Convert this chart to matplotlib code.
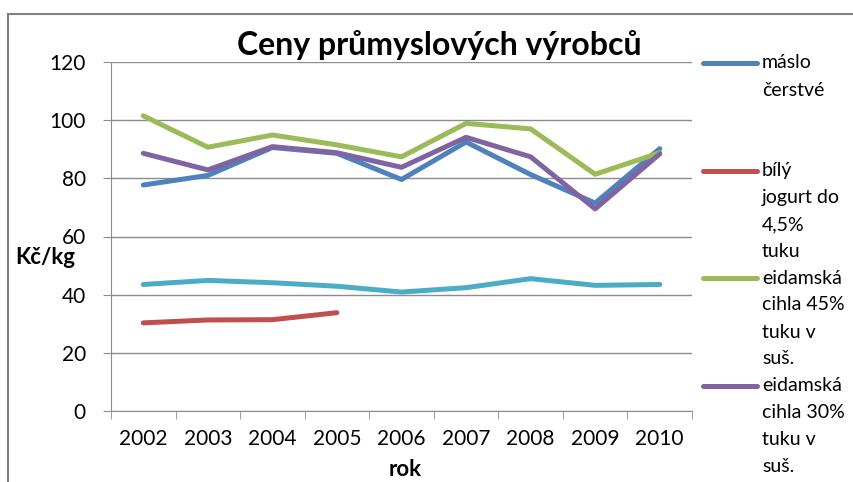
import numpy as np
import matplotlib
matplotlib.use('Agg')
import matplotlib.pyplot as plt
from matplotlib.lines import Line2D

years = ['2002', '2003', '2004', '2005', '2006', '2007', '2008', '2009', '2010']
maslo = [77.7, 81.0, 90.6, 88.6, 79.6, 92.5, 81.3, 71.5, 90.2]
jogurt = [30.3, 31.3, 31.4, 33.8]
eidam45 = [101.5, 90.7, 94.9, 91.5, 87.4, 98.9, 97.0, 81.4, 88.8]
eidam30 = [88.6, 82.9, 90.9, 88.8, 83.8, 94.1, 87.4, 69.5, 88.4]
cyan_series = [43.5, 44.9, 44.1, 42.9, 40.9, 42.4, 45.5, 43.2, 43.5]

legend_labels = ['máslo\nčerstvé', 'bílý\njogurt do\n4,5%\ntuku',
                 'eidamská\ncihla 45%\ntuku v\nsuš.', 'eidamská\ncihla 30%\ntuku v\nsuš.']
colors = ['#4F81BD', '#C0504D', '#9BBB59', '#8064A2', '#4BACC6']

plt.rcParams['font.family'] = ['Lato', 'DejaVu Sans']

fig = plt.figure(figsize=(8.54, 4.82), dpi=100)
ax = fig.add_axes([111 / 854, 1 - 411 / 482, 581 / 854, 349 / 482])

x = np.arange(len(years))
lw = 3.6
ax.plot(x, maslo, color=colors[0], lw=lw, solid_capstyle='round', zorder=3)
ax.plot(x[:len(jogurt)], jogurt, color=colors[1], lw=lw, solid_capstyle='round', zorder=3)
ax.plot(x, eidam45, color=colors[2], lw=lw, solid_capstyle='round', zorder=3)
ax.plot(x, eidam30, color=colors[3], lw=lw, solid_capstyle='round', zorder=3)
ax.plot(x, cyan_series, color=colors[4], lw=lw, solid_capstyle='round', zorder=3)

grid_c = '#8c8c8c'
ax.set_xlim(-0.5, len(years) - 0.5)
ax.set_ylim(0, 120)
ax.set_yticks(np.arange(0, 121, 20))
ax.yaxis.grid(True, color=grid_c, lw=1)
ax.set_axisbelow(True)
for s in ['top', 'right']:
    ax.spines[s].set_visible(False)
ax.spines['left'].set_color(grid_c)
ax.spines['bottom'].set_color(grid_c)
ax.set_xticks(x)
ax.set_xticklabels(years)
ax.set_xticks(np.arange(-0.5, len(years)), minor=True)
ax.tick_params(axis='x', which='major', length=0, pad=13, labelsize=15)
ax.tick_params(axis='x', which='minor', length=6, color=grid_c, direction='out')
ax.tick_params(axis='y', length=6, color=grid_c, pad=12, labelsize=15)

fig.text(439 / 854, 1 - 45 / 482, 'Ceny průmyslových výrobců', ha='center', va='center',
         fontsize=23, fontweight='bold')
fig.text(405 / 854, 1 - 470 / 482, 'rok', ha='center', va='center', fontsize=16, fontweight='bold')
fig.text(15 / 854, 1 - 258 / 482, 'Kč/kg', ha='left', va='center', fontsize=16, fontweight='bold')

# legend drawn by hand so the line sits on the first text line
for i, lab in enumerate(legend_labels):
    yy = 1 - (63 + 107.5 * i) / 482
    fig.add_artist(Line2D([703 / 854, 757 / 854], [yy, yy], color=colors[i], lw=lw,
                          solid_capstyle='round', transform=fig.transFigure))
    for j, line in enumerate(lab.split('\n')):
        fig.text(762 / 854, yy - j * 27 / 482, line, ha='left', va='center', fontsize=14)

# outer chart border (top and left visible)
border_c = '#808080'
fig.add_artist(Line2D([8 / 854, 1], [1 - 14 / 482, 1 - 14 / 482], color=border_c, lw=1.5,
                      transform=fig.transFigure))
fig.add_artist(Line2D([8 / 854, 8 / 854], [0, 1 - 14 / 482], color=border_c, lw=1.5,
                      transform=fig.transFigure))

fig.savefig('out.png', dpi=100)
